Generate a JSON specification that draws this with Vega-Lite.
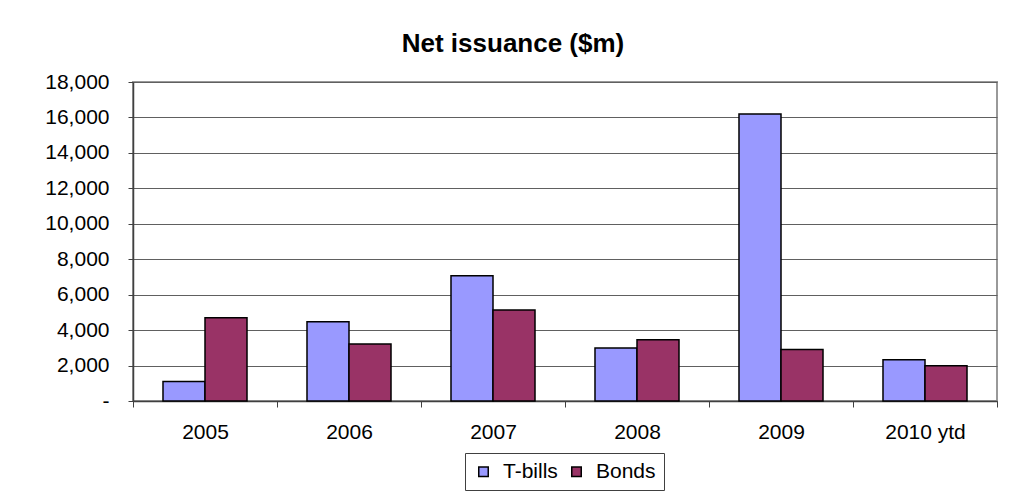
{
  "$schema": "https://vega.github.io/schema/vega-lite/v6.json",
  "width": 864,
  "height": 319,
  "autosize": {"type": "none"},
  "padding": {"left": 133, "top": 82, "right": 12, "bottom": 99},
  "background": "white",
  "title": {
    "text": "Net issuance ($m)",
    "frame": "group",
    "anchor": "middle",
    "dx": -52,
    "offset": -7,
    "baseline": "alphabetic",
    "fontSize": 26,
    "fontWeight": "bold",
    "font": "Liberation Sans",
    "color": "black"
  },
  "data": {
    "values": [
      {"year": "2005", "series": "T-bills", "value": 1100},
      {"year": "2005", "series": "Bonds", "value": 4700},
      {"year": "2006", "series": "T-bills", "value": 4470},
      {"year": "2006", "series": "Bonds", "value": 3220},
      {"year": "2007", "series": "T-bills", "value": 7070},
      {"year": "2007", "series": "Bonds", "value": 5140},
      {"year": "2008", "series": "T-bills", "value": 2990},
      {"year": "2008", "series": "Bonds", "value": 3460},
      {"year": "2009", "series": "T-bills", "value": 16200},
      {"year": "2009", "series": "Bonds", "value": 2900},
      {"year": "2010 ytd", "series": "T-bills", "value": 2330},
      {"year": "2010 ytd", "series": "Bonds", "value": 1990}
    ]
  },
  "mark": {"type": "bar", "stroke": "black", "strokeWidth": 1.5},
  "encoding": {
    "x": {
      "field": "year",
      "type": "nominal",
      "sort": null,
      "scale": {"paddingInner": 0, "paddingOuter": 0},
      "axis": {
        "title": null,
        "labelAngle": 0,
        "tickBand": "extent",
        "tickSize": 6,
        "tickColor": "#404040",
        "domainColor": "#404040",
        "domainWidth": 1.5,
        "labelPadding": 14,
        "labelFontSize": 21,
        "labelFont": "Liberation Sans",
        "labelColor": "black",
        "grid": false
      }
    },
    "xOffset": {
      "field": "series",
      "type": "nominal",
      "sort": ["T-bills", "Bonds"],
      "scale": {"paddingInner": 0, "paddingOuter": 0.714}
    },
    "y": {
      "field": "value",
      "type": "quantitative",
      "scale": {"domain": [0, 18000], "nice": false},
      "axis": {
        "title": null,
        "values": [0, 2000, 4000, 6000, 8000, 10000, 12000, 14000, 16000, 18000],
        "labelExpr": "datum.value == 0 ? '-' : format(datum.value, ',')",
        "tickSize": 5,
        "tickColor": "#404040",
        "domainColor": "#404040",
        "domainWidth": 1.5,
        "labelPadding": 19,
        "labelFontSize": 21,
        "labelFont": "Liberation Sans",
        "labelColor": "black",
        "grid": true,
        "gridColor": "#606060",
        "gridWidth": 1.2
      }
    },
    "color": {
      "field": "series",
      "type": "nominal",
      "scale": {"domain": ["T-bills", "Bonds"], "range": ["#9999FF", "#993366"]},
      "legend": {
        "title": null,
        "orient": "none",
        "legendX": 332,
        "legendY": 371,
        "direction": "horizontal",
        "padding": 8,
        "strokeColor": "#404040",
        "fillColor": "white",
        "symbolType": "square",
        "symbolSize": 90,
        "symbolStrokeColor": "black",
        "symbolStrokeWidth": 1.5,
        "symbolOpacity": 1,
        "labelFontSize": 21,
        "labelFont": "Liberation Sans",
        "labelColor": "black",
        "labelOffset": 9,
        "columnPadding": 8
      }
    }
  },
  "config": {
    "view": {"stroke": "#999999", "strokeWidth": 2}
  }
}
